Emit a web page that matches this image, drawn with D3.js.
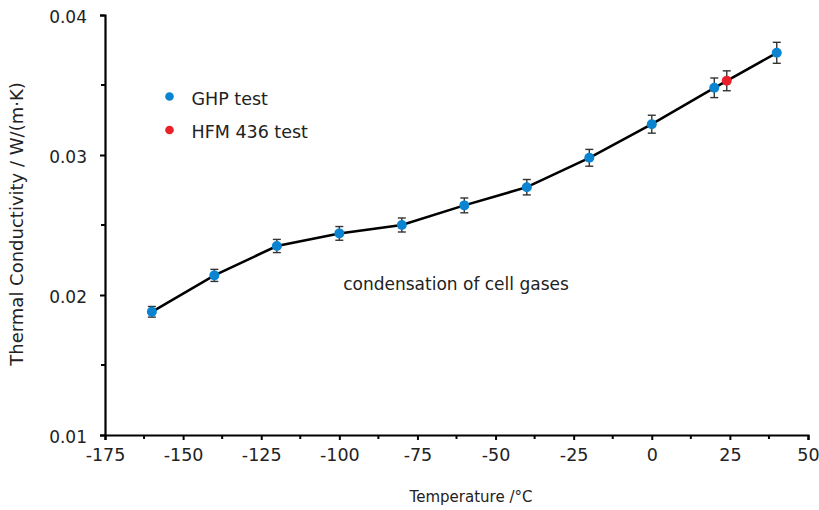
<!DOCTYPE html>
<html>
<head>
<meta charset="utf-8">
<script src="https://cdn.jsdelivr.net/npm/d3@7/dist/d3.min.js"></script>
<style>
  html, body { margin: 0; padding: 0; background: #fff; }
  svg text { font-family: "DejaVu Sans", "Open Sans", sans-serif; fill: #222; }
</style>
</head>
<body>
<svg id="chart" width="819" height="510"></svg>
<script>
// Thermal conductivity vs temperature
const ghpTemp  = [-160, -140, -120, -100, -80, -60, -40, -20, 0, 20, 40];
const ghpK     = [0.0188, 0.0214, 0.0235, 0.0244, 0.0250, 0.0264, 0.0277, 0.0298, 0.0322, 0.0348, 0.0373];
const ghpErr   = [0.00038, 0.00043, 0.00047, 0.00049, 0.00050, 0.00053, 0.00055, 0.00060, 0.00064, 0.00070, 0.00075];
const hfmTemp  = [24];
const hfmK     = [0.0353];
const hfmErr   = [0.00071];
const xTicks   = [-175, -150, -125, -100, -75, -50, -25, 0, 25, 50];
const yTicks   = [0.01, 0.02, 0.03, 0.04];
const legendLabels = ["GHP test", "HFM 436 test"];
const annotation = "condensation of cell gases";

const svg = d3.select("#chart");
const m = { left: 105, right: 11, top: 15, bottom: 75 };
const W = 819, H = 510;

const x = d3.scaleLinear().domain([-175, 50]).range([m.left, W - m.right]);
const y = d3.scaleLinear().domain([0.01, 0.04]).range([H - m.bottom, m.top]);

const blue = "#0a84d0", red = "#e8202a";

// minor ticks halfway between labelled ones
const xMinor = d3.range(-162.5, 50, 25);
const yMinor = [0.015, 0.025, 0.035];

const gx = svg.append("g").attr("transform", `translate(0,${y(0.01)})`);
gx.call(d3.axisBottom(x).tickValues(xTicks).tickSize(5).tickPadding(8).tickFormat(d => String(d)));
gx.selectAll(".tick text").attr("font-size", 17.5).attr("dy", "0.75em");
gx.selectAll("line.minor").data(xMinor).enter().append("line").attr("class", "minor")
  .attr("x1", d => x(d)).attr("x2", d => x(d)).attr("y1", 0).attr("y2", 4)
  .attr("stroke", "#000").attr("stroke-width", 2);

const gy = svg.append("g").attr("transform", `translate(${x(-175)},0)`);
gy.call(d3.axisLeft(y).tickValues(yTicks).tickSize(5).tickPadding(13).tickFormat(d3.format(".2f")));
gy.selectAll(".tick text").attr("font-size", 17).attr("dy", "0.45em");
gy.selectAll("line.minor").data(yMinor).enter().append("line").attr("class", "minor")
  .attr("x1", 0).attr("x2", -4).attr("y1", d => y(d)).attr("y2", d => y(d))
  .attr("stroke", "#000").attr("stroke-width", 2);

[gx, gy].forEach(g => {
  g.select(".domain").attr("stroke", "#000").attr("stroke-width", 2.2);
  g.selectAll(".tick line").attr("stroke", "#000").attr("stroke-width", 2);
  g.selectAll(".tick text").style("fill", "#222");
});

// axis titles
svg.append("text").attr("x", 471).attr("y", 502).attr("text-anchor", "middle")
  .attr("font-size", 15).text("Temperature /°C");
svg.append("text").attr("transform", "translate(23,224) rotate(-90)")
  .attr("text-anchor", "middle").attr("font-size", 18)
  .text("Thermal Conductivity / W/(m·K)");

// connecting line through GHP data
const ghp = ghpTemp.map((t, i) => ({ t, k: ghpK[i], e: ghpErr[i] }));
const hfm = hfmTemp.map((t, i) => ({ t, k: hfmK[i], e: hfmErr[i] }));

svg.append("path").datum(ghp)
  .attr("d", d3.line().x(d => x(d.t)).y(d => y(d.k)))
  .attr("fill", "none").attr("stroke", "#000").attr("stroke-width", 2.5);

function drawPoints(data, color) {
  const g = svg.append("g");
  const eb = g.selectAll("g.eb").data(data).enter().append("g").attr("class", "eb")
    .attr("stroke", "#333").attr("stroke-width", 1.4);
  eb.append("line").attr("x1", d => x(d.t)).attr("x2", d => x(d.t))
    .attr("y1", d => y(d.k + d.e)).attr("y2", d => y(d.k - d.e));
  eb.append("line").attr("x1", d => x(d.t) - 4).attr("x2", d => x(d.t) + 4)
    .attr("y1", d => y(d.k + d.e)).attr("y2", d => y(d.k + d.e));
  eb.append("line").attr("x1", d => x(d.t) - 4).attr("x2", d => x(d.t) + 4)
    .attr("y1", d => y(d.k - d.e)).attr("y2", d => y(d.k - d.e));
  g.selectAll("circle").data(data).enter().append("circle")
    .attr("cx", d => x(d.t)).attr("cy", d => y(d.k)).attr("r", 5)
    .attr("fill", color);
}
drawPoints(ghp, blue);
drawPoints(hfm, red);

// legend
const leg = svg.append("g").attr("transform", "translate(169.5,96.5)");
legendLabels.forEach((lab, i) => {
  const row = leg.append("g").attr("transform", `translate(0,${i * 33.5})`);
  row.append("circle").attr("r", 4.3).attr("fill", i === 0 ? blue : red);
  row.append("text").attr("x", 22).attr("y", 8).attr("font-size", 17.5).text(lab);
});

// annotation
svg.append("text").attr("x", 456).attr("y", 290).attr("text-anchor", "middle")
  .attr("font-size", 17).text(annotation);
</script>
</body>
</html>
